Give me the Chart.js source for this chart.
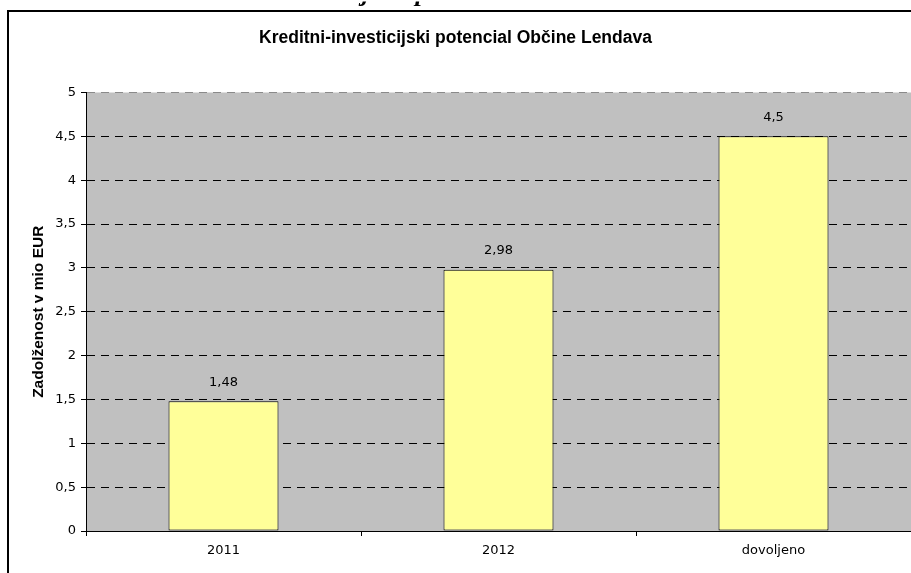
<!DOCTYPE html>
<html lang="sl">
<head>
    <meta charset="UTF-8">
    <title>Kreditni-investicijski potencial Občine Lendava</title>
    <script src="https://cdn.jsdelivr.net/npm/chart.js"></script>
    <style>
        html, body { margin: 0; padding: 0; background: #fff; }
        #wrap { width: 911px; height: 573px; position: relative; }
    </style>
</head>
<body>
    <div id="wrap"><canvas id="potencialChart"></canvas></div>

    <script>
        // Data
        const categories = ['2011', '2012', 'dovoljeno'];
        const values = [1.48, 2.98, 4.5];
        const valueLabels = ['1,48', '2,98', '4,5'];
        const chartTitle = 'Kreditni-investicijski potencial Občine Lendava';
        const yTitle = 'Zadolženost v mio EUR';
        const headingFragment = 'Zadolževanje in potencial';

        const font = "Arial, 'Liberation Sans', sans-serif";
        const tickFont = "'DejaVu Sans', sans-serif";

        // grey plot background, frame and cut-off heading above it
        const decorPlugin = {
            id: 'decor',
            beforeDraw(chart) {
                const { ctx, chartArea: a } = chart;
                ctx.save();
                ctx.fillStyle = '#c0c0c0';
                ctx.fillRect(a.left, a.top, a.right - a.left, a.bottom - a.top);
                ctx.restore();
            },
            afterDraw(chart) {
                const ctx = chart.ctx;
                ctx.save();
                ctx.strokeStyle = '#000';
                ctx.lineWidth = 2;
                ctx.strokeRect(8, 11, 2000, 2000);
                // only the descenders of the page heading show above the frame
                ctx.font = "bold italic 26px 'Liberation Serif', 'Times New Roman', serif";
                ctx.fillStyle = '#000';
                ctx.textAlign = 'left';
                ctx.textBaseline = 'alphabetic';
                const x0 = 362 - ctx.measureText('Zadolževan').width;
                ctx.beginPath();
                ctx.rect(0, 1.5, 911, 9);
                ctx.clip();
                ctx.fillText(headingFragment, x0, 1);
                ctx.restore();
            }
        };

        // values above the bars
        const valueLabelPlugin = {
            id: 'valueLabels',
            afterDatasetsDraw(chart) {
                const ctx = chart.ctx;
                const meta = chart.getDatasetMeta(0);
                ctx.save();
                ctx.font = '13px ' + tickFont;
                ctx.fillStyle = '#000';
                ctx.textAlign = 'center';
                ctx.textBaseline = 'middle';
                meta.data.forEach((bar, i) => {
                    ctx.fillText(valueLabels[i], bar.x, bar.y - 19);
                });
                ctx.restore();
            }
        };

        const ctx = document.getElementById('potencialChart').getContext('2d');

        new Chart(ctx, {
            type: 'bar',
            data: {
                labels: categories,
                datasets: [{
                    data: values,
                    backgroundColor: '#ffff99',
                    borderColor: '#000',
                    borderWidth: 1,
                    borderSkipped: false,
                    barPercentage: 0.4,
                    categoryPercentage: 1
                }]
            },
            options: {
                responsive: true,
                maintainAspectRatio: false,
                animation: false,
                layout: { padding: { left: 0, right: 0, top: 0, bottom: 0 } },
                plugins: {
                    legend: { display: false },
                    tooltip: { enabled: false },
                    title: {
                        display: true,
                        text: chartTitle,
                        color: '#000',
                        font: { family: font, size: 17.5, weight: 'bold' },
                        padding: { top: 28, bottom: 43.5 }
                    }
                },
                scales: {
                    x: {
                        grid: {
                            display: true,
                            drawOnChartArea: false,
                            offset: true,
                            tickLength: 5,
                            color: '#000'
                        },
                        border: { color: '#000', width: 1 },
                        ticks: {
                            color: '#000',
                            padding: 7,
                            font: { family: tickFont, size: 13 }
                        },
                        afterFit(scale) { scale.height = 42; }
                    },
                    y: {
                        min: 0,
                        max: 5,
                        ticks: {
                            stepSize: 0.5,
                            color: '#000',
                            padding: 5,
                            font: { family: tickFont, size: 13 },
                            callback: v => String(v).replace('.', ',')
                        },
                        grid: {
                            color: c => (c.tick && c.tick.value === 5) ? '#8a8a8a' : '#000',
                            tickColor: '#000',
                            tickLength: 5,
                            tickBorderDash: []
                        },
                        border: { color: '#000', width: 1, dash: [8, 6] },
                        title: {
                            display: true,
                            text: yTitle,
                            color: '#000',
                            font: { family: font, size: 15.5, weight: 'bold' },
                            padding: { top: 29, bottom: 0 }
                        },
                        afterFit(scale) { scale.width = 86; }
                    }
                }
            },
            plugins: [decorPlugin, valueLabelPlugin]
        });
    </script>
</body>
</html>
